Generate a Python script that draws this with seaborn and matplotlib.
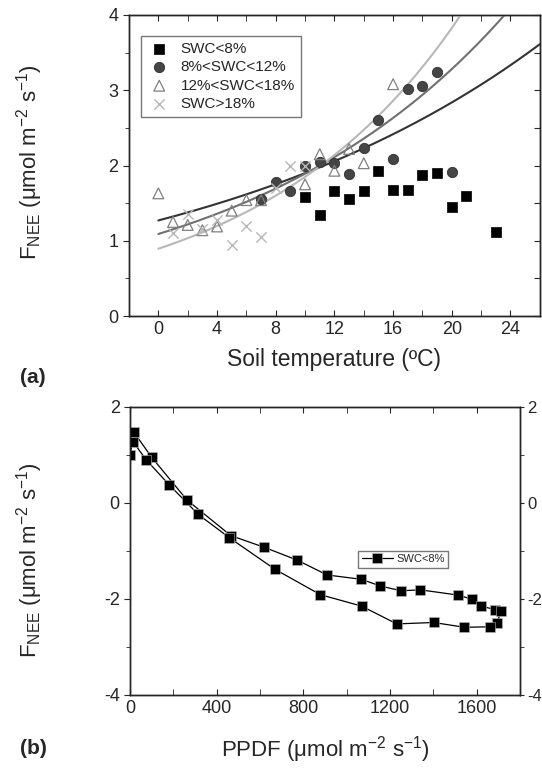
import numpy as np
import pandas as pd
import seaborn as sns
import matplotlib.pyplot as plt
from matplotlib.ticker import MultipleLocator

# --- panel (a): soil temperature vs F_NEE, grouped by SWC ---
t_sq = [10, 11, 12, 13, 14, 15, 16, 17, 18, 19, 20, 21, 23]
f_sq = [1.58, 1.34, 1.66, 1.55, 1.66, 1.93, 1.67, 1.68, 1.88, 1.90, 1.45, 1.59, 1.11]

t_ci = [7, 8, 9, 10, 11, 12, 13, 14, 15, 16, 17, 18, 19, 20]
f_ci = [1.56, 1.78, 1.66, 2.00, 2.05, 2.03, 1.89, 2.23, 2.60, 2.09, 3.02, 3.05, 3.24, 1.91]

t_tr = [0, 1, 2, 3, 4, 5, 6, 7, 10, 11, 12, 13, 14, 16]
f_tr = [1.63, 1.25, 1.21, 1.14, 1.19, 1.40, 1.54, 1.54, 1.75, 2.15, 1.93, 2.22, 2.03, 3.08]

t_x = [1, 2, 3, 4, 5, 6, 7, 8, 9, 10]
f_x = [1.10, 1.36, 1.15, 1.27, 0.94, 1.20, 1.05, 1.70, 2.00, 2.00]

labels_a = ["SWC<8%", "8%<SWC<12%", "12%<SWC<18%", "SWC>18%"]

# exponential fits F = a * exp(b * T)
fit_a = [1.27, 1.09, 0.894]
fit_b = [0.0402, 0.0551, 0.0727]
fit_colors = ["#333333", "#707070", "#b8b8b8"]

# --- panel (b): PPFD vs F_NEE, daily loop ---
ppfd = [0, 0, 0, 0, 0, 0, 18, 100, 263, 465, 617, 771, 909, 1067, 1155, 1251,
        1340, 1515, 1580, 1620, 1684, 1711, 1694, 1660, 1543, 1401, 1231, 1069,
        878, 668, 457, 315, 181, 74, 15, 0]
f_b = [0.62, 0.75, 0.90, 1.05, 1.20, 1.35, 1.47, 0.95, 0.06, -0.68, -0.92, -1.19,
       -1.50, -1.59, -1.73, -1.83, -1.81, -1.92, -2.01, -2.15, -2.22, -2.26, -2.50,
       -2.58, -2.59, -2.49, -2.52, -2.15, -1.91, -1.38, -0.72, -0.24, 0.375, 0.90,
       1.27, 1.10]

sns.set_style("ticks")
plt.rcParams["font.family"] = ["Liberation Sans", "DejaVu Sans"]
plt.rcParams["mathtext.fontset"] = "custom"
plt.rcParams["mathtext.rm"] = "Liberation Sans"
plt.rcParams["mathtext.it"] = "Liberation Sans:italic"
plt.rcParams["axes.unicode_minus"] = False

YLAB = r"F$_{\mathregular{NEE}}$ ($\mathregular{\mu}$mol m$^{\mathregular{-2}}$ s$^{\mathregular{-1}}$)"

fig = plt.figure(figsize=(5.42, 7.68), dpi=100)
ax1 = fig.add_axes([0.238, 0.5885, 0.758, 0.392])
ax2 = fig.add_axes([0.240, 0.0951, 0.7196, 0.375])

# 1. panel (a)
sns.scatterplot(x=t_sq, y=f_sq, ax=ax1, marker="s", color="black", s=45,
                edgecolor="black", linewidth=0.5, label=labels_a[0], zorder=4)
sns.scatterplot(x=t_ci, y=f_ci, ax=ax1, marker="o", color="#454545", s=55,
                edgecolor="#303030", linewidth=0.6, label=labels_a[1], zorder=4)
sns.scatterplot(x=t_tr, y=f_tr, ax=ax1, marker="^", facecolor="none", s=60,
                edgecolor="#808080", linewidth=0.9, label=labels_a[2], zorder=4)
sns.scatterplot(x=t_x, y=f_x, ax=ax1, marker="x", color="#b8b8b8", s=55,
                linewidth=1.0, label=labels_a[3], zorder=4)

t_fit = np.linspace(0, 26, 200)
for a, b, c in zip(fit_a, fit_b, fit_colors):
    sns.lineplot(x=t_fit, y=a * np.exp(b * t_fit), ax=ax1, color=c, lw=1.5, zorder=3)

ax1.set_xlim(-2, 26)
ax1.set_ylim(0, 4)
ax1.xaxis.set_major_locator(MultipleLocator(4))
ax1.xaxis.set_minor_locator(MultipleLocator(2))
ax1.yaxis.set_major_locator(MultipleLocator(1))
ax1.yaxis.set_minor_locator(MultipleLocator(0.5))
ax1.set_xticks(range(0, 25, 4))
ax1.set_xlabel("Soil temperature (ºC)", fontsize=16.5)
ax1.xaxis.set_label_coords(0.5, -0.105)
ax1.set_ylabel(YLAB, fontsize=16)
ax1.yaxis.set_label_coords(-0.205, 0.51)
leg = ax1.legend(loc="upper left", bbox_to_anchor=(0.029, 0.93), borderaxespad=0,
                 fontsize=11, frameon=True, fancybox=False, edgecolor="#555555",
                 labelspacing=0.28, handletextpad=0.6, borderpad=0.4, handlelength=1.6)

ax1r = ax1.twinx()
ax1r.set_ylim(0, 4)
ax1r.yaxis.set_major_locator(MultipleLocator(0.5))
ax1r.tick_params(axis="y", direction="in", length=4, labelright=False)

# 2. panel (b)
df_b = pd.DataFrame({"ppfd": ppfd, "fnee": f_b})
sns.lineplot(data=df_b, x="ppfd", y="fnee", ax=ax2, sort=False, color="black",
             lw=0.9, marker="s", markersize=7, markeredgecolor="#bbbbbb",
             markeredgewidth=0.4, label="SWC<8%")
ax2.set_xlim(0, 1800)
ax2.set_ylim(-4, 2)
ax2.xaxis.set_major_locator(MultipleLocator(400))
ax2.xaxis.set_minor_locator(MultipleLocator(200))
ax2.yaxis.set_major_locator(MultipleLocator(2))
ax2.yaxis.set_minor_locator(MultipleLocator(1))
ax2.set_xlabel(r"PPDF ($\mathregular{\mu}$mol m$^{\mathregular{-2}}$ s$^{\mathregular{-1}}$)", fontsize=16)
ax2.xaxis.set_label_coords(0.5, -0.135)
ax2.set_ylabel(YLAB, fontsize=16)
ax2.yaxis.set_label_coords(-0.218, 0.47)
ax2.legend(loc="upper left", bbox_to_anchor=(0.585, 0.50), borderaxespad=0,
           fontsize=8, frameon=True, fancybox=False, edgecolor="#555555",
           handlelength=2.8, handletextpad=0.3, borderpad=0.3)

ax2r = ax2.twinx()
ax2r.set_ylim(-4, 2)
ax2r.yaxis.set_major_locator(MultipleLocator(2))
ax2r.yaxis.set_minor_locator(MultipleLocator(1))
ax2r.tick_params(axis="y", which="both", direction="out", labelsize=12, pad=2, length=3)

# 3. axes styling
for ax in (ax1, ax2):
    for sp in ax.spines.values():
        sp.set_visible(True)
        sp.set_linewidth(1.0)
        sp.set_color("black")
    ax.tick_params(axis="x", which="both", direction="in", top=True, labelsize=13, length=4)
    ax.tick_params(axis="y", which="both", direction="out", labelsize=13, length=4)
    ax.tick_params(axis="y", which="minor", length=3)
for sp in list(ax1r.spines.values()) + list(ax2r.spines.values()):
    sp.set_linewidth(1.0)

fig.text(0.037, 0.508, "(a)", fontsize=15, fontweight="bold", va="center")
fig.text(0.037, 0.026, "(b)", fontsize=15, fontweight="bold", va="center")

plt.savefig("out.png", dpi=100)
plt.close()
